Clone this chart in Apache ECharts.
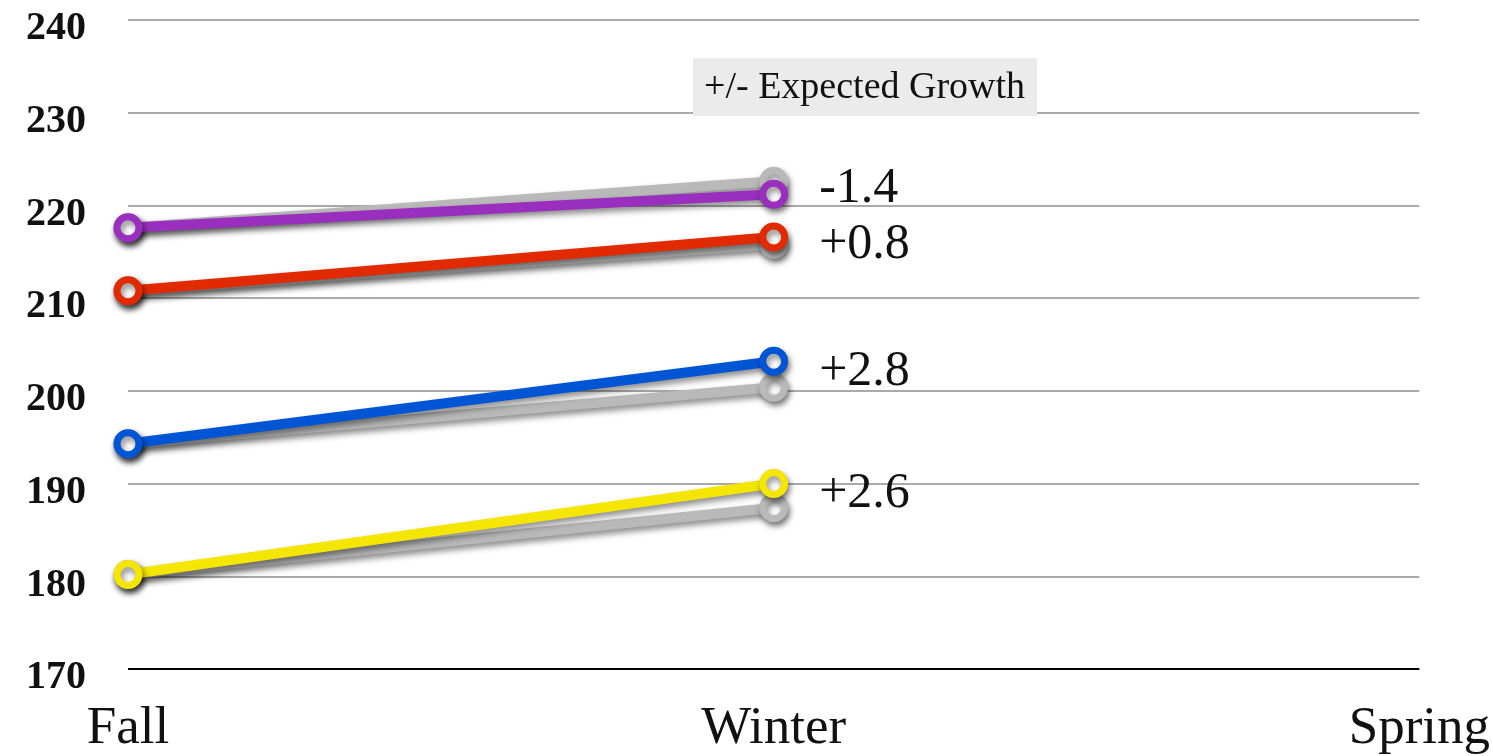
<!DOCTYPE html>
<html>
<head>
<meta charset="utf-8">
<script src="https://cdn.jsdelivr.net/npm/echarts@6/dist/echarts.min.js"></script>
<style>
  html, body { margin: 0; padding: 0; background: #fff; }
  #chart { width: 1493px; height: 756px; }
</style>
</head>
<body>
<div id="chart"></div>
<script>
// Terms on the x axis
const seasons = ['Fall', 'Winter', 'Spring'];

// Measured scores per group (Spring not yet tested)
const purpleActual = [217.6, 221.2, null];
const redActual    = [210.8, 216.6, null];
const blueActual   = [194.3, 203.2, null];
const yellowActual = [180.2, 190.0, null];

// Expected scores per group, starting from the same Fall score
const purpleExpected = [217.6, 222.6, null];
const redExpected    = [210.8, 215.8, null];
const blueExpected   = [194.3, 200.4, null];
const yellowExpected = [180.2, 187.4, null];

// Y axis range
const yMin = 170, yMax = 240, yStep = 10;

const serif = '"Liberation Serif", "DejaVu Serif", serif';

// Vertical nudges for the growth labels beside the Winter points
const labelNudge = { purple: -5, red: 8, blue: 11, yellow: 10 };

function fmtDiff(a, e) {
  const d = Math.round((a - e) * 10) / 10;
  return (d >= 0 ? '+' : '') + d.toFixed(1);
}

const shadow = {
  shadowColor: 'rgba(0,0,0,0.45)',
  shadowBlur: 6,
  shadowOffsetX: 2,
  shadowOffsetY: 4
};

function lineSeries(name, data, color, z, labelInfo) {
  const s = {
    name: name,
    type: 'line',
    data: data,
    z: z,
    symbol: 'circle',
    symbolSize: 22,
    showSymbol: true,
    lineStyle: Object.assign({ color: color, width: 10 }, shadow),
    itemStyle: Object.assign({ color: '#ffffff', borderColor: color, borderWidth: 7 }, shadow),
    emphasis: { disabled: true },
    animation: false
  };
  if (labelInfo) {
    s.label = {
      show: true,
      position: 'right',
      distance: 0,
      offset: [31, labelInfo.dy],
      fontFamily: serif,
      fontSize: 50,
      color: '#111',
      formatter: function (p) {
        if (p.dataIndex !== 1) return '';
        return fmtDiff(labelInfo.actual[1], labelInfo.expected[1]);
      }
    };
  }
  return s;
}

const grayLine = '#b9b9b9';

const chart = echarts.init(document.getElementById('chart'));
chart.setOption({
  backgroundColor: '#ffffff',
  animation: false,
  grid: { left: 128, right: 73, top: 20, bottom: 87, containLabel: false },
  xAxis: {
    type: 'category',
    data: seasons,
    boundaryGap: false,
    axisLine: { show: false },
    axisTick: { show: false },
    axisLabel: {
      fontFamily: serif,
      fontSize: 53,
      color: '#111',
      margin: 34,
      interval: 0
    },
    splitLine: { show: false }
  },
  yAxis: {
    type: 'value',
    min: yMin,
    max: yMax,
    interval: yStep,
    axisLine: { show: false },
    axisTick: { show: false },
    axisLabel: {
      margin: 42,
      formatter: function (v) { return '{t|' + v + '}'; },
      rich: {
        t: {
          fontFamily: serif,
          fontWeight: 'bold',
          fontSize: 40,
          color: '#111',
          padding: [18, 0, 0, 0]
        }
      }
    },
    splitLine: {
      show: true,
      lineStyle: { width: 2, color: '#aaaaaa' }
    }
  },
  graphic: [
    {
      type: 'text',
      left: 693,
      top: 58,
      z: 100,
      style: {
        text: '+/- Expected Growth',
        fontFamily: serif,
        fontSize: 38,
        fill: '#111',
        backgroundColor: '#ebebeb',
        padding: [11, 12, 9, 11]
      }
    }
  ],
  series: [
    lineSeries('Expected purple', purpleExpected, grayLine, 2),
    lineSeries('Expected red', redExpected, grayLine, 2),
    lineSeries('Expected blue', blueExpected, grayLine, 2),
    lineSeries('Expected yellow', yellowExpected, grayLine, 2),
    lineSeries('Purple', purpleActual, '#9a2fbf', 3,
      { actual: purpleActual, expected: purpleExpected, dy: labelNudge.purple }),
    lineSeries('Red', redActual, '#e12a00', 3,
      { actual: redActual, expected: redExpected, dy: labelNudge.red }),
    lineSeries('Blue', blueActual, '#0055d4', 3,
      { actual: blueActual, expected: blueExpected, dy: labelNudge.blue }),
    lineSeries('Yellow', yellowActual, '#f4e600', 3,
      { actual: yellowActual, expected: yellowExpected, dy: labelNudge.yellow }),
    {
      // Black baseline at the axis minimum
      type: 'line',
      data: [],
      markLine: {
        silent: true,
        symbol: 'none',
        label: { show: false },
        lineStyle: { color: '#000', width: 2, type: 'solid' },
        data: [{ yAxis: yMin }]
      }
    }
  ]
});
</script>
</body>
</html>
